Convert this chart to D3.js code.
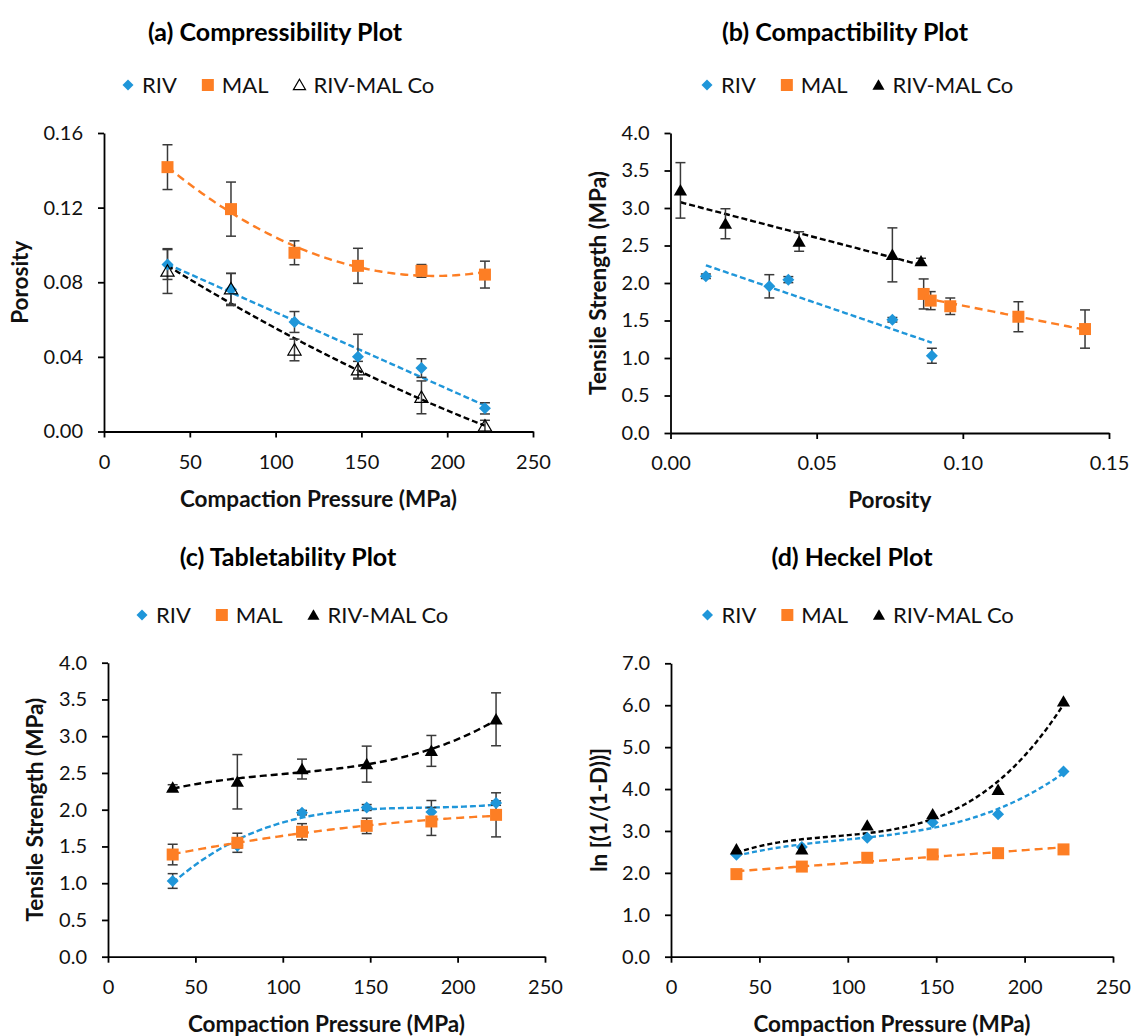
<!DOCTYPE html>
<html>
<head>
<meta charset="utf-8">
<script src="https://cdn.jsdelivr.net/npm/d3@7"></script>
<style>
  body { margin: 0; background: #fff; }
  svg text { font-family: Lato, "Open Sans", "DejaVu Sans", sans-serif; }
</style>
</head>
<body>
<svg id="fig" width="1134" height="1036"></svg>
<script>
// ---- data ----------------------------------------------------------
const seriesNames = ["RIV", "MAL", "RIV-MAL Co"];
const pressure = [37, 74, 111, 148, 185, 222];          // MPa

// (a) compressibility: porosity vs compaction pressure
const porosityRIV    = [0.0895, 0.0761, 0.0587, 0.0401, 0.0340, 0.0124];
const porosityRIVErr = [0.0080, 0.0086, 0.0056, 0.0120, 0.0050, 0.0030];
const porosityMAL    = [0.1417, 0.1192, 0.0958, 0.0888, 0.0861, 0.0841];
const porosityMALErr = [0.0120, 0.0145, 0.0064, 0.0094, 0.0034, 0.0072];
const porosityCo     = [0.0860, 0.0765, 0.0437, 0.0331, 0.0183, 0.0030];
const porosityCoErr  = [0.0120, 0.0083, 0.0058, 0.0045, 0.0088, 0.0030];

// (b) compactibility: tensile strength vs porosity
const compRIVx   = [0.0121, 0.0338, 0.0403, 0.0759, 0.0894];
const compRIVy   = [2.09, 1.956, 2.045, 1.51, 1.03];
const compRIVErr = [0.03, 0.155, 0.04, 0.03, 0.10];
const compMALx   = [0.0866, 0.0890, 0.0957, 0.1190, 0.1418];
const compMALy   = [1.854, 1.765, 1.69, 1.55, 1.386];
const compMALErr = [0.20, 0.12, 0.11, 0.20, 0.255];
const compCox    = [0.0034, 0.0188, 0.0440, 0.0759, 0.0857];
const compCoy    = [3.235, 2.79, 2.553, 2.375, 2.29];
const compCoErr  = [0.37, 0.20, 0.13, 0.36, 0.04];

// (c) tabletability: tensile strength vs compaction pressure
const tensileRIV    = [1.03, 1.51, 1.96, 2.03, 1.97, 2.09];
const tensileRIVErr = [0.10, 0.03, 0.03, 0.04, 0.155, 0.03];
const tensileMAL    = [1.39, 1.55, 1.70, 1.78, 1.84, 1.93];
const tensileMALErr = [0.14, 0.13, 0.11, 0.105, 0.19, 0.30];
const tensileCo     = [2.30, 2.38, 2.553, 2.62, 2.80, 3.23];
const tensileCoErr  = [0.04, 0.37, 0.135, 0.245, 0.21, 0.36];

// (d) Heckel: ln[1/(1-D)] vs compaction pressure
const heckelRIV = [2.43, 2.62, 2.84, 3.20, 3.40, 4.42];
const heckelMAL = [1.97, 2.15, 2.36, 2.44, 2.47, 2.56];
const heckelCo  = [2.56, 2.56, 3.13, 3.40, 3.98, 6.09];

// axis ticks
const pressureTicks = [0, 50, 100, 150, 200, 250];
const porosityTicksA = [0, 0.04, 0.08, 0.12, 0.16];
const porosityTicksB = [0, 0.05, 0.10, 0.15];
const strengthTicks = [0, 0.5, 1, 1.5, 2, 2.5, 3, 3.5, 4];
const heckelTicks = [0, 1, 2, 3, 4, 5, 6, 7];

// ---- helpers -------------------------------------------------------
const colorOf = { "RIV": "#1f96d9", "MAL": "#fd7e24", "RIV-MAL Co": "#000000" };
const shapeOf = { "RIV": "diamond", "MAL": "square", "RIV-MAL Co": "triangle" };

function markerPath(shape, s) {
  if (shape === "diamond") return `M0,${-s}L${s},0L0,${s}L${-s},0Z`;
  if (shape === "square") return `M${-s},${-s}H${s}V${s}H${-s}Z`;
  return `M0,${-s * 1.05}L${s * 1.1},${s * 0.85}L${-s * 1.1},${s * 0.85}Z`;
}
const markerSize = { diamond: 6, square: 6, triangle: 6 };

// least-squares polynomial trendline, x standardised for stability
function polyfit(xs, ys, order) {
  const m = d3.mean(xs), sd = d3.deviation(xs) || 1;
  const t = xs.map(v => (v - m) / sd);
  const n = order + 1;
  const A = Array.from({ length: n }, () => new Array(n + 1).fill(0));
  for (let k = 0; k < t.length; k++) {
    for (let i = 0; i < n; i++) {
      for (let j = 0; j < n; j++) A[i][j] += Math.pow(t[k], i + j);
      A[i][n] += ys[k] * Math.pow(t[k], i);
    }
  }
  for (let c = 0; c < n; c++) {
    let p = c;
    for (let r = c + 1; r < n; r++) if (Math.abs(A[r][c]) > Math.abs(A[p][c])) p = r;
    [A[c], A[p]] = [A[p], A[c]];
    for (let r = 0; r < n; r++) {
      if (r === c) continue;
      const f = A[r][c] / A[c][c];
      for (let q = c; q <= n; q++) A[r][q] -= f * A[c][q];
    }
  }
  const coef = A.map((row, i) => row[n] / row[i]);
  return v => { const z = (v - m) / sd; return coef.reduce((s, c, i) => s + c * Math.pow(z, i), 0); };
}

const svg = d3.select("#fig");

function drawPanel(p) {
  const g = svg.append("g");
  const x = d3.scaleLinear().domain(p.xDomain).range([p.left, p.right]);
  const y = d3.scaleLinear().domain(p.yDomain).range([p.bottom, p.top]);

  // trendlines
  p.series.forEach(s => {
    const f = polyfit(s.x, s.y, s.order);
    const [lo, hi] = d3.extent(s.x);
    const pts = d3.range(0, 121).map(i => lo + (hi - lo) * i / 120);
    g.append("path")
      .attr("d", d3.line().x(v => x(v)).y(v => y(f(v)))(pts))
      .attr("fill", "none")
      .attr("stroke", colorOf[s.name])
      .attr("stroke-width", 2.4)
      .attr("stroke-dasharray", s.dash);
  });

  // error bars
  p.series.forEach(s => {
    if (!s.err) return;
    s.x.forEach((xv, i) => {
      const e = s.err[i], cx = x(xv);
      const eg = g.append("g").attr("stroke", "#3a3a3a").attr("stroke-width", 1.5);
      eg.append("line").attr("x1", cx).attr("x2", cx).attr("y1", y(s.y[i] - e)).attr("y2", y(s.y[i] + e));
      [s.y[i] - e, s.y[i] + e].forEach(v =>
        eg.append("line").attr("x1", cx - 5).attr("x2", cx + 5).attr("y1", y(v)).attr("y2", y(v)));
    });
  });

  // markers
  p.series.forEach(s => {
    const shape = shapeOf[s.name];
    const open = p.openTriangle && shape === "triangle";
    g.append("g").selectAll("path").data(s.x.map((xv, i) => [xv, s.y[i]])).join("path")
      .attr("transform", d => `translate(${x(d[0])},${y(d[1])})`)
      .attr("d", markerPath(shape, markerSize[shape]))
      .attr("fill", open ? "none" : colorOf[s.name])
      .attr("stroke", open ? "#000" : "none")
      .attr("stroke-width", 1.2);
  });

  // axes
  const xAxis = g.append("g").attr("transform", `translate(0,${p.bottom})`)
    .call(d3.axisBottom(x).tickValues(p.xTicks).tickFormat(d3.format(p.xFmt))
      .tickSizeInner(6).tickSizeOuter(0).tickPadding(17));
  const yAxis = g.append("g").attr("transform", `translate(${p.left},0)`)
    .call(d3.axisLeft(y).tickValues(p.yTicks).tickFormat(d3.format(p.yFmt))
      .tickSizeInner(6).tickSizeOuter(0).tickPadding(15));
  [xAxis, yAxis].forEach(a => {
    a.select(".domain").attr("stroke", "#000").attr("stroke-width", 1.8);
    a.selectAll(".tick line").attr("stroke", "#000").attr("stroke-width", 1.8);
    a.selectAll(".tick text").attr("font-size", 20).attr("fill", "#111")
      .style("font-family", "Lato, 'Open Sans', sans-serif");
  });

  // titles
  g.append("text").attr("x", p.titleX).attr("y", p.titleY).attr("text-anchor", "middle")
    .attr("font-size", 25).attr("font-weight", "bold").attr("fill", "#000").text(p.title);
  g.append("text").attr("x", (p.left + p.right) / 2).attr("y", p.bottom + 75)
    .attr("text-anchor", "middle").attr("font-size", 22.5).attr("font-weight", "bold")
    .attr("fill", "#111").text(p.xLabel);
  g.append("text").attr("transform", `translate(${p.yLabelX},${(p.top + p.bottom) / 2}) rotate(-90)`)
    .attr("text-anchor", "middle").attr("font-size", 22.5).attr("font-weight", "bold")
    .attr("fill", "#111").text(p.yLabel);

  // legend
  let lx = p.legendX;
  seriesNames.forEach(name => {
    const shape = shapeOf[name];
    const open = p.openTriangle && shape === "triangle";
    const s = shape === "diamond" ? 5.5 : shape === "square" ? 6 : 5.5;
    g.append("path").attr("transform", `translate(${lx},${p.legendY})`)
      .attr("d", markerPath(shape, s))
      .attr("fill", open ? "none" : colorOf[name])
      .attr("stroke", open ? "#000" : "none").attr("stroke-width", 1.2);
    const t = g.append("text").attr("x", lx + 14).attr("y", p.legendY + 8)
      .attr("font-size", 22).attr("fill", "#111").text(name);
    lx += 14 + t.node().getComputedTextLength() + 31;
  });
}

const pressureSeries = (a, b, c, ea, eb, ec, orders, dashes) => [
  { name: "RIV", x: pressure, y: a, err: ea, order: orders[0], dash: dashes[0] },
  { name: "MAL", x: pressure, y: b, err: eb, order: orders[1], dash: dashes[1] },
  { name: "RIV-MAL Co", x: pressure, y: c, err: ec, order: orders[2], dash: dashes[2] }
];

drawPanel({
  left: 104, right: 533, bottom: 431.5, top: 133,
  xDomain: [0, 250], yDomain: [0, 0.16],
  xTicks: pressureTicks, yTicks: porosityTicksA, xFmt: "d", yFmt: ".2f",
  title: "(a) Compressibility Plot", titleX: 275, titleY: 41,
  legendX: 128, legendY: 85, openTriangle: true,
  xLabel: "Compaction Pressure (MPa)", yLabel: "Porosity", yLabelX: 28,
  series: pressureSeries(porosityRIV, porosityMAL, porosityCo,
    porosityRIVErr, porosityMALErr, porosityCoErr, [1, 2, 2], ["6,3", "8,5", "6,3"])
});

drawPanel({
  left: 670.5, right: 1109, bottom: 433, top: 133,
  xDomain: [0, 0.15], yDomain: [0, 4],
  xTicks: porosityTicksB, yTicks: strengthTicks, xFmt: ".2f", yFmt: ".1f",
  title: "(b) Compactibility Plot", titleX: 845, titleY: 41,
  legendX: 707, legendY: 85,
  xLabel: "Porosity", yLabel: "Tensile Strength (MPa)", yLabelX: 605.5,
  series: [
    { name: "RIV", x: compRIVx, y: compRIVy, err: compRIVErr, order: 1, dash: "6,3" },
    { name: "MAL", x: compMALx, y: compMALy, err: compMALErr, order: 1, dash: "8,5" },
    { name: "RIV-MAL Co", x: compCox, y: compCoy, err: compCoErr, order: 1, dash: "6,3" }
  ]
});

drawPanel({
  left: 108, right: 545, bottom: 956.7, top: 662.7,
  xDomain: [0, 250], yDomain: [0, 4],
  xTicks: pressureTicks, yTicks: strengthTicks, xFmt: "d", yFmt: ".1f",
  title: "(c) Tabletability Plot", titleX: 288, titleY: 566,
  legendX: 142, legendY: 615,
  xLabel: "Compaction Pressure (MPa)", yLabel: "Tensile Strength (MPa)", yLabelX: 43,
  series: pressureSeries(tensileRIV, tensileMAL, tensileCo,
    tensileRIVErr, tensileMALErr, tensileCoErr, [3, 2, 3], ["6,3", "8,5", "7,4"])
});

drawPanel({
  left: 671, right: 1113, bottom: 956.7, top: 663.3,
  xDomain: [0, 250], yDomain: [0, 7],
  xTicks: pressureTicks, yTicks: heckelTicks, xFmt: "d", yFmt: ".1f",
  title: "(d) Heckel Plot", titleX: 852, titleY: 566,
  legendX: 707.5, legendY: 615,
  xLabel: "Compaction Pressure (MPa)", yLabel: "ln [(1/(1-D))]", yLabelX: 607,
  series: pressureSeries(heckelRIV, heckelMAL, heckelCo,
    null, null, null, [3, 1, 3], ["5,3", "8,5", "5,3"])
});
</script>
</body>
</html>
